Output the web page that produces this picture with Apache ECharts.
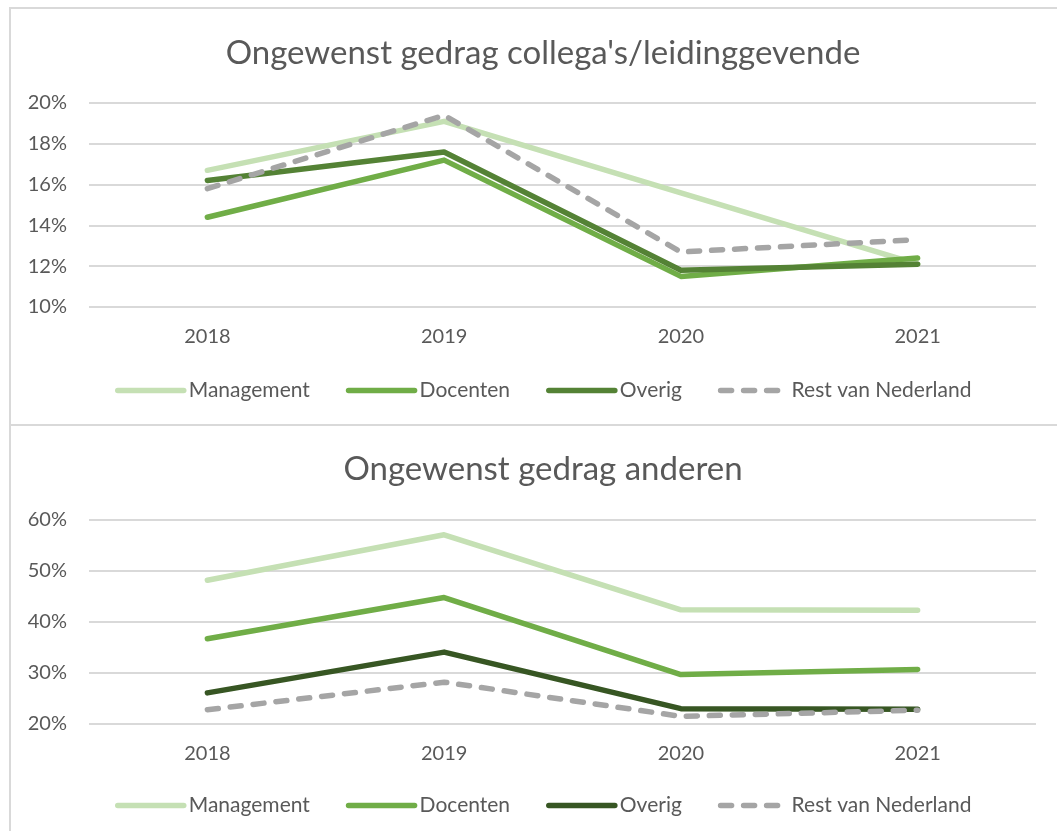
<!DOCTYPE html>
<html>
<head>
<meta charset="utf-8">
<script src="https://cdn.jsdelivr.net/npm/echarts@6/dist/echarts.min.js"></script>
<style>
  html, body { margin: 0; padding: 0; background: #fff; width: 1057px; height: 831px; overflow: hidden; position: relative; }
  .chart { position: absolute; left: 0; width: 1057px; }
  .bline { position: absolute; background: #D9D9D9; }
</style>
</head>
<body>
<div id="c1" class="chart" style="top:0;height:425px;"></div>
<div id="c2" class="chart" style="top:425px;height:406px;"></div>
<div class="bline" style="left:9px;top:7px;width:1048px;height:2px;"></div>
<div class="bline" style="left:9px;top:424px;width:1048px;height:2px;"></div>
<div class="bline" style="left:9px;top:7px;width:2px;height:824px;"></div>
<script>
const years = ['2018', '2019', '2020', '2021'];
const seriesNames = ['Management', 'Docenten', 'Overig', 'Rest van Nederland'];

const title1 = "Ongewenst gedrag collega's/leidinggevende";
const mgmt1 = [16.7, 19.1, 15.6, 12.1];
const doc1 = [14.4, 17.2, 11.5, 12.4];
const overig1 = [16.2, 17.6, 11.8, 12.1];
const rest1 = [15.8, 19.4, 12.7, 13.3];

const title2 = "Ongewenst gedrag anderen";
const mgmt2 = [48.2, 57.1, 42.4, 42.3];
const doc2 = [36.7, 44.8, 29.7, 30.7];
const overig2 = [26.1, 34.1, 23.0, 22.9];
const rest2 = [22.8, 28.2, 21.5, 22.7];

const FONT = 'Lato';
const TXT = '#595959';
const LW = 5.5;

function makeOption(title, data, colors, yMin, yMax, yInt, layout) {
  const series = seriesNames.map((n, i) => ({
    name: n,
    type: 'line',
    data: data[i],
    symbol: 'none',
    showSymbol: false,
    lineStyle: {
      color: colors[i],
      width: LW,
      type: i === 3 ? [11, 12] : 'solid',
      cap: 'round',
      join: 'round'
    },
    itemStyle: { color: colors[i] },
    emphasis: { disabled: true },
    animation: false
  }));
  return {
    animation: false,
    textStyle: { fontFamily: FONT },
    title: {
      text: title,
      left: 538,
      textAlign: 'center',
      top: layout.titleTop,
      textStyle: { fontFamily: FONT, fontSize: 33, fontWeight: 'normal', color: TXT }
    },
    legend: {
      data: seriesNames,
      left: layout.legendLeft,
      top: layout.legendTop,
      itemWidth: 66,
      itemHeight: 12,
      itemGap: 36,
      itemStyle: { opacity: 0 },
      lineStyle: { width: LW, cap: 'round' },
      textStyle: { fontFamily: FONT, fontSize: 21, color: TXT }
    },
    grid: { left: 89, width: 947, top: layout.gridTop, height: layout.gridHeight, containLabel: false },
    xAxis: {
      type: 'category',
      data: years,
      boundaryGap: true,
      axisLine: { show: false },
      axisTick: { show: false },
      axisLabel: { color: TXT, fontSize: 20, fontFamily: FONT, margin: 20 }
    },
    yAxis: {
      type: 'value',
      min: yMin,
      max: yMax,
      interval: yInt,
      axisLine: { show: false },
      axisTick: { show: false },
      axisLabel: { color: TXT, fontSize: 20, fontFamily: FONT, margin: 22, formatter: '{value}%' },
      splitLine: { lineStyle: { color: '#D9D9D9', width: 2 } }
    },
    series: series
  };
}

const c1 = echarts.init(document.getElementById('c1'), null, { renderer: 'canvas' });
c1.setOption(makeOption(title1, [mgmt1, doc1, overig1, rest1],
  ['#C5E0B4', '#70AD47', '#548235', '#A5A5A5'], 10, 20, 2,
  { titleTop: 32, legendTop: 375, legendLeft: 110, gridTop: 103, gridHeight: 204 }));

const c2 = echarts.init(document.getElementById('c2'), null, { renderer: 'canvas' });
c2.setOption(makeOption(title2, [mgmt2, doc2, overig2, rest2],
  ['#C5E0B4', '#70AD47', '#375623', '#A5A5A5'], 20, 60, 10,
  { titleTop: 23, legendTop: 365, legendLeft: 110, gridTop: 95, gridHeight: 204 }));
</script>
</body>
</html>
